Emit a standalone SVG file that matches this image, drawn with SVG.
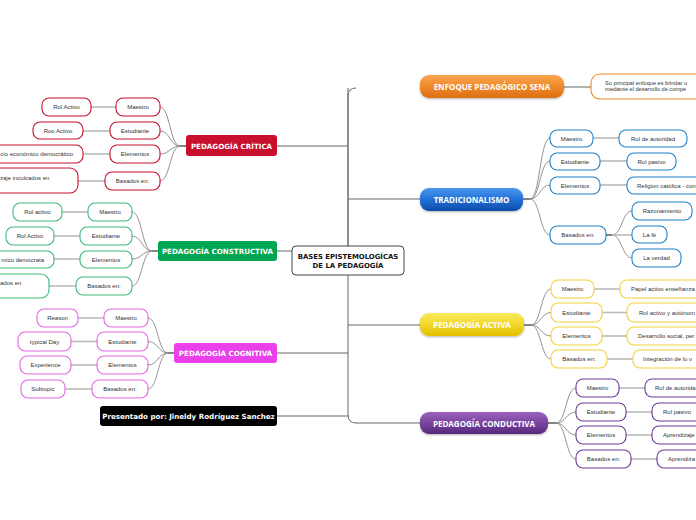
<svg xmlns="http://www.w3.org/2000/svg" width="696" height="520" viewBox="0 0 696 520">
<defs>
<linearGradient id="gOr" x1="0" y1="0" x2="0" y2="1"><stop offset="0" stop-color="#f7a550"/><stop offset="0.5" stop-color="#f08a2a"/><stop offset="1" stop-color="#dc6e14"/></linearGradient>
<linearGradient id="gBl" x1="0" y1="0" x2="0" y2="1"><stop offset="0" stop-color="#4a98ee"/><stop offset="0.5" stop-color="#2270d8"/><stop offset="1" stop-color="#0c4ca6"/></linearGradient>
<linearGradient id="gYe" x1="0" y1="0" x2="0" y2="1"><stop offset="0" stop-color="#f9ea60"/><stop offset="0.5" stop-color="#f2d82a"/><stop offset="1" stop-color="#e2c000"/></linearGradient>
<linearGradient id="gPu" x1="0" y1="0" x2="0" y2="1"><stop offset="0" stop-color="#9a62bc"/><stop offset="0.5" stop-color="#7a449e"/><stop offset="1" stop-color="#57287c"/></linearGradient>
<filter id="sh" x="-10%" y="-20%" width="120%" height="160%"><feDropShadow dx="0" dy="1" stdDeviation="0.8" flood-color="#000" flood-opacity="0.3"/></filter>
</defs>
<style>
.t{font-family:"Liberation Sans",Arial,sans-serif;font-size:6px;fill:#333;text-anchor:middle}
.ts{text-anchor:start}
.te{text-anchor:end}
.b{font-family:"DejaVu Sans",Verdana,sans-serif;font-weight:bold;font-size:7.1px;fill:#fff;text-anchor:middle}
.m{font-family:"Open Sans","DejaVu Sans",sans-serif;font-weight:bold;font-size:8px;fill:#fff;text-anchor:middle}
.p{fill:#fff;stroke-width:1.1}
.cr{stroke:#c8102e}.cg{stroke:#3cb878}.cm{stroke:#e266e2}.cb{stroke:#1f80c6}.cy{stroke:#f2d23a}.cp{stroke:#6d3b96}.co{stroke:#f08a24}
.l1{fill:none;stroke:#777;stroke-width:0.8}
.l2{fill:none;stroke:#bbb;stroke-width:1.6}
.c{fill:none;stroke:#888;stroke-width:0.9}
.k{fill:none;stroke:#333;stroke-width:1.2}
.tr{fill:none;stroke:#666;stroke-width:1}
</style>

<g id="connectors">
<path class="tr" d="M356,88 Q348,88 348,96 V415 Q348,423 356,423 H420"/>
<path class="tr" d="M348,246 V88"/>
<path class="tr" d="M348,199 H420 M348,325 H420"/>
<path class="tr" d="M277,146 H348 M277,251 H292 M277,353 H348 M277,416 H348"/>
<path class="tr" d="M564,87 H591"/>
<!-- CRITICA -->
<path class="k" d="M186,146 H180"/>
<path class="c" d="M180,146 C170,146 170,107 160,107 M180,146 C170,146 170,131 160,131 M180,146 C170,146 170,154 160,154 M180,146 C170,146 170,181 160,181"/>
<path class="l1" d="M91,107 H116"/><path class="l2" d="M83,131 H110"/><path class="l1" d="M83,154 H110"/><path class="l2" d="M78,181 H105"/>
<!-- CONSTRUCTIVA -->
<path class="k" d="M158,251 H152"/>
<path class="c" d="M152,251 C142,251 142,212 132,212 M152,251 C142,251 142,236 132,236 M152,251 C142,251 142,259 132,259 M152,251 C142,251 142,286 132,286"/>
<path class="l2" d="M62,212 H88"/><path class="l1" d="M54,236 H80"/><path class="l2" d="M54,259 H80"/><path class="l2" d="M49,286 H76"/>
<!-- COGNITIVA -->
<path class="k" d="M174,353 H168"/>
<path class="c" d="M168,353 C158,353 158,318 148,318 M168,353 C158,353 158,341.5 148,341.5 M168,353 C158,353 158,365 148,365 M168,353 C158,353 158,389 148,389"/>
<path class="l1" d="M78,318 H104"/><path class="l2" d="M71,341.5 H97"/><path class="l1" d="M71,365 H97"/><path class="l2" d="M65,389 H92"/>
<!-- TRADICIONALISMO -->
<path class="k" d="M523,199 H530"/>
<path class="c" d="M530,199 C540,199 540,138 550,138 M530,199 C540,199 540,161 550,161 M530,199 C540,199 540,185 550,185 M530,199 C540,199 540,235 550,235"/>
<path class="l1" d="M593,138 H619"/><path class="l2" d="M600,161 H627"/><path class="l1" d="M600,185 H627"/>
<path class="k" d="M606,235 H612"/>
<path class="c" d="M612,235 C622,235 622,211 632,211 M612,235 C622,235 622,258 632,258"/><path class="l2" d="M612,235 H632"/>
<!-- ACTIVA -->
<path class="k" d="M524,325 H531"/>
<path class="c" d="M531,325 C541,325 541,289 551,289 M531,325 C541,325 541,312.5 551,312.5 M531,325 C541,325 541,336 551,336 M531,325 C541,325 541,359 551,359"/>
<path class="l1" d="M594,289 H620"/><path class="l2" d="M602,312.5 H627"/><path class="l1" d="M602,336 H627"/><path class="l2" d="M607,359 H633"/>
<!-- CONDUCTIVA -->
<path class="k" d="M548,423 H556"/>
<path class="c" d="M556,423 C566,423 566,388 576,388 M556,423 C566,423 566,412 576,412 M556,423 C566,423 566,435 576,435 M556,423 C566,423 566,459 576,459"/>
<path class="l1" d="M619,388 H645"/><path class="l2" d="M626,412 H652"/><path class="l1" d="M626,435 H652"/><path class="l2" d="M631,459 H657"/>
</g>

<g id="center">
<rect x="292" y="246" width="112" height="29" rx="4" fill="#fff" stroke="#444" stroke-width="1"/>
<text class="b" x="348" y="258.5" style="fill:#111;font-size:6.9px">BASES EPISTEMOLOGÍCAS</text>
<text class="b" x="348" y="267.5" style="fill:#111;font-size:6.9px">DE LA PEDAGOGÍA</text>
</g>

<g id="critica">
<rect x="186" y="135" width="91" height="21" rx="3" fill="#c8102e"/>
<text class="b" x="231.5" y="148.5">PEDAGOGÍA CRÍTICA</text>
<rect class="p cr" x="116" y="98" width="44" height="18" rx="7"/><text class="t" x="138" y="109">Maestro</text>
<rect class="p cr" x="110" y="122" width="50" height="17" rx="7"/><text class="t" x="135" y="132.5">Estudiante</text>
<rect class="p cr" x="110" y="145" width="50" height="18" rx="7"/><text class="t" x="135" y="156">Elementos</text>
<rect class="p cr" x="105" y="172" width="55" height="18" rx="7"/><text class="t" x="132.5" y="183">Basados en:</text>
<rect class="p cr" x="42" y="98" width="49" height="18" rx="7"/><text class="t" x="66.5" y="109">Rol Activo</text>
<rect class="p cr" x="33" y="122" width="50" height="17" rx="7"/><text class="t" x="58" y="132.5">Roo Activo</text>
<rect class="p cr" x="-30" y="145" width="113" height="18" rx="7"/><text class="t te" x="73" y="156">cio económico democrático</text>
<rect class="p cr" x="-30" y="168" width="108" height="25" rx="8"/><text class="t ts" x="0" y="180">zaje inculcados en</text>
</g>

<g id="constructiva">
<rect x="158" y="241" width="119" height="20" rx="3" fill="#00a651"/>
<text class="b" x="217.5" y="253.5">PEDAGOGÍA CONSTRUCTIVA</text>
<rect class="p cg" x="88" y="203" width="44" height="18" rx="7"/><text class="t" x="110" y="214">Maestro</text>
<rect class="p cg" x="80" y="227" width="52" height="18" rx="7"/><text class="t" x="106" y="238">Estudiante</text>
<rect class="p cg" x="80" y="251" width="52" height="17" rx="7"/><text class="t" x="106" y="261.5">Elementos</text>
<rect class="p cg" x="76" y="277" width="56" height="18" rx="7"/><text class="t" x="104" y="288">Basados en:</text>
<rect class="p cg" x="13" y="203" width="49" height="18" rx="7"/><text class="t" x="37.5" y="214">Rol activo</text>
<rect class="p cg" x="6" y="227" width="48" height="18" rx="7"/><text class="t" x="30" y="238">Rol Activo</text>
<rect class="p cg" x="-30" y="251" width="84" height="17" rx="7"/><text class="t te" x="44" y="261.5">mico demócrata</text>
<rect class="p cg" x="-30" y="274" width="79" height="24" rx="8"/><text class="t ts" x="0" y="285">ados en</text>
</g>

<g id="cognitiva">
<rect x="174" y="343" width="103" height="20" rx="3" fill="#e940e9"/>
<text class="b" x="225.5" y="355.5">PEDAGOGÍA COGNITIVA</text>
<rect class="p cm" x="104" y="309" width="44" height="18" rx="7"/><text class="t" x="126" y="320">Maestro</text>
<rect class="p cm" x="97" y="332" width="51" height="19" rx="7"/><text class="t" x="122.5" y="343.5">Estudiante</text>
<rect class="p cm" x="97" y="356" width="51" height="18" rx="7"/><text class="t" x="122.5" y="367">Elementos</text>
<rect class="p cm" x="92" y="380" width="56" height="18" rx="7"/><text class="t" x="120" y="391">Basados en:</text>
<rect class="p cm" x="37" y="309" width="41" height="18" rx="7"/><text class="t" x="57.5" y="320">Reason</text>
<rect class="p cm" x="18" y="332" width="53" height="19" rx="7"/><text class="t" x="44.5" y="343.5">typical Day</text>
<rect class="p cm" x="20" y="356" width="51" height="18" rx="7"/><text class="t" x="45.5" y="367">Experience</text>
<rect class="p cm" x="21" y="380" width="44" height="18" rx="7"/><text class="t" x="43" y="391">Subtopic</text>
</g>

<g id="presentado">
<rect x="100" y="406" width="177" height="20" rx="3" fill="#000"/>
<text class="b" x="188.5" y="418.5">Presentado por: Jineldy Rodríguez Sanchez</text>
</g>

<g id="enfoque">
<rect x="420" y="75" width="144" height="23" rx="9" fill="url(#gOr)" filter="url(#sh)"/>
<text class="m" x="492" y="89.5">ENFOQUE PEDAGÓGICO SENA</text>
<rect class="p co" x="591" y="74" width="160" height="25" rx="9"/>
<text class="t ts" x="605" y="84.5" style="font-size:5.6px">Su principal enfoque es brindar u</text>
<text class="t ts" x="605" y="90.5" style="font-size:5.6px">mediante el desarrollo de compe</text>
</g>

<g id="tradicionalismo">
<rect x="420" y="188" width="103" height="23" rx="9" fill="url(#gBl)" filter="url(#sh)"/>
<text class="m" x="471.5" y="202.5">TRADICIONALISMO</text>
<rect class="p cb" x="550" y="130" width="43" height="17" rx="7"/><text class="t" x="571.5" y="140.5">Maestro</text>
<rect class="p cb" x="550" y="153" width="50" height="17" rx="7"/><text class="t" x="575" y="163.5">Estudiante</text>
<rect class="p cb" x="550" y="177" width="50" height="17" rx="7"/><text class="t" x="575" y="187.5">Elementos</text>
<rect class="p cb" x="550" y="226" width="56" height="18" rx="7"/><text class="t" x="578" y="237">Basados en:</text>
<rect class="p cb" x="619" y="130" width="68" height="17" rx="7"/><text class="t" x="653" y="140.5">Rol de autoridad</text>
<rect class="p cb" x="627" y="153" width="49" height="17" rx="7"/><text class="t" x="651.5" y="163.5">Rol pasivo</text>
<rect class="p cb" x="627" y="177" width="120" height="17" rx="7"/><text class="t ts" x="637" y="187.5">Religion católica - con</text>
<rect class="p cb" x="632" y="202" width="60" height="18" rx="7"/><text class="t" x="662" y="213">Razonamiento</text>
<rect class="p cb" x="632" y="226" width="35" height="17" rx="7"/><text class="t" x="649.5" y="236.5">La fé</text>
<rect class="p cb" x="632" y="249" width="49" height="18" rx="7"/><text class="t" x="656.5" y="260">La verdad</text>
</g>

<g id="activa">
<rect x="420" y="313" width="104" height="23" rx="9" fill="url(#gYe)" filter="url(#sh)"/>
<text class="m" x="472" y="327.5">PEDAGOGÍA ACTIVA</text>
<rect class="p cy" x="551" y="280" width="43" height="18" rx="7"/><text class="t" x="572.5" y="291">Maestro</text>
<rect class="p cy" x="551" y="303" width="51" height="19" rx="7"/><text class="t" x="576.5" y="314.5">Estudiante</text>
<rect class="p cy" x="551" y="327" width="51" height="18" rx="7"/><text class="t" x="576.5" y="338">Elementos</text>
<rect class="p cy" x="551" y="350" width="56" height="18" rx="7"/><text class="t" x="579" y="361">Basados en:</text>
<rect class="p cy" x="620" y="280" width="120" height="18" rx="7"/><text class="t ts" x="631" y="291">Papel activo enseñanza</text>
<rect class="p cy" x="627" y="303" width="120" height="19" rx="7"/><text class="t ts" x="639" y="314.5">Rol activo y autónom</text>
<rect class="p cy" x="627" y="327" width="120" height="18" rx="7"/><text class="t ts" x="638" y="338">Desarrollo social, per</text>
<rect class="p cy" x="633" y="350" width="120" height="18" rx="7"/><text class="t ts" x="643" y="361">Integración de lo v</text>
</g>

<g id="conductiva">
<rect x="420" y="412" width="128" height="22" rx="9" fill="url(#gPu)" filter="url(#sh)"/>
<text class="m" x="484" y="426.5">PEDAGOGÍA CONDUCTIVA</text>
<rect class="p cp" x="576" y="379" width="43" height="18" rx="7"/><text class="t" x="597.5" y="390">Maestro</text>
<rect class="p cp" x="576" y="403" width="50" height="18" rx="7"/><text class="t" x="601" y="414">Estudiante</text>
<rect class="p cp" x="576" y="426" width="50" height="18" rx="7"/><text class="t" x="601" y="437">Elementos</text>
<rect class="p cp" x="576" y="450" width="55" height="18" rx="7"/><text class="t" x="603.5" y="461">Basados en:</text>
<rect class="p cp" x="645" y="379" width="100" height="18" rx="7"/><text class="t ts" x="655" y="390">Rol de autorida</text>
<rect class="p cp" x="652" y="403" width="50" height="18" rx="7"/><text class="t" x="677" y="414">Rol pasivo</text>
<rect class="p cp" x="652" y="426" width="100" height="18" rx="7"/><text class="t ts" x="663" y="437">Aprendizaje</text>
<rect class="p cp" x="657" y="450" width="100" height="18" rx="7"/><text class="t ts" x="668" y="461">Aprendiza</text>
</g>
</svg>
